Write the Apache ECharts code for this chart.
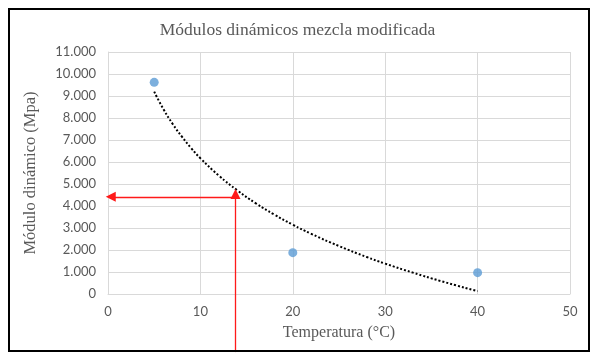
<!DOCTYPE html>
<html><head><meta charset="utf-8">
<script src="https://cdn.jsdelivr.net/npm/echarts@6/dist/echarts.min.js"></script>
<style>html,body{margin:0;padding:0;background:#fff}#c{width:595px;height:360px}</style>
</head><body><div id="c"></div>
<script>
// Measured points (Temperatura °C, Módulo dinámico MPa)
const tempPoints = [5, 20, 40];
const moduloPoints = [9620, 1880, 970];
// Trend line values
const trendX = [5, 6, 7, 8, 9, 10, 12, 14, 16, 18, 20, 22, 25, 28, 30, 33, 36, 40];
const trendY = [9200, 8400, 7730, 7150, 6630, 6170, 5380, 4710, 4120, 3610, 3150, 2735, 2180, 1680, 1380, 970, 590, 130];
// Red annotation arrows (data coordinates)
const arrowVertical = [[13.8, -2640], [13.8, 4550]];
const arrowHorizontal = [[13.8, 4420], [0.3, 4420]];
const xTicks = [0, 10, 20, 30, 40, 50];
const yTicks = [0, 1000, 2000, 3000, 4000, 5000, 6000, 7000, 8000, 9000, 10000, 11000];

const fmt = v => v === 0 ? '0' : String(v).replace(/\B(?=(\d{3})+(?!\d))/g, '.');
const red = { color: '#ff1a1a', width: 1.3, opacity: 1, type: 'solid' };
const chart = echarts.init(document.getElementById('c'));
chart.setOption({
  animation: false,
  title: {
    text: 'Módulos dinámicos mezcla modificada',
    left: 'center', top: 16,
    textStyle: { fontFamily: 'Liberation Serif', fontSize: 17.5, fontWeight: 'normal', color: '#595959' }
  },
  graphic: [{
    type: 'rect', shape: { x: 9, y: 9, width: 580, height: 342 },
    style: { fill: 'none', stroke: '#000', lineWidth: 2 }, z: 100
  }],
  grid: { left: 108, right: 25, top: 52, bottom: 66, containLabel: false },
  xAxis: {
    type: 'value', min: xTicks[0], max: xTicks[xTicks.length - 1], interval: 10,
    name: 'Temperatura (°C)', nameLocation: 'middle', nameGap: 31,
    nameTextStyle: { fontFamily: 'Liberation Serif', fontSize: 16, color: '#595959' },
    axisLine: { show: true, lineStyle: { color: '#d9d9d9', width: 1 } },
    axisTick: { show: false },
    axisLabel: { color: '#595959', fontFamily: 'Lato', fontSize: 13, margin: 11 },
    splitLine: { show: true, lineStyle: { color: '#d9d9d9', width: 1 } }
  },
  yAxis: {
    type: 'value', min: yTicks[0], max: yTicks[yTicks.length - 1], interval: 1000,
    name: 'Módulo dinámico (Mpa)', nameLocation: 'middle', nameGap: 69,
    nameTextStyle: { fontFamily: 'Liberation Serif', fontSize: 16.5, color: '#595959' },
    axisLine: { show: true, lineStyle: { color: '#d9d9d9', width: 1 } },
    axisTick: { show: false },
    axisLabel: { color: '#595959', fontFamily: 'Lato', fontSize: 13, margin: 12, formatter: fmt },
    splitLine: { show: true, lineStyle: { color: '#d9d9d9', width: 1 } }
  },
  series: [
    {
      type: 'line', data: trendX.map((x, i) => [x, trendY[i]]),
      smooth: true, showSymbol: false, symbol: 'none',
      lineStyle: { color: '#000', width: 2, type: [2, 2] }, z: 3
    },
    {
      type: 'scatter', data: tempPoints.map((x, i) => [x, moduloPoints[i]]),
      symbolSize: 9, itemStyle: { color: '#5b9bd5' }, z: 4
    },
    {
      type: 'lines', coordinateSystem: 'cartesian2d', clip: false,
      symbol: ['none', 'triangle'], symbolSize: 10,
      lineStyle: red,
      itemStyle: { color: '#ff0000' },
      data: [
        { coords: arrowVertical, lineStyle: red },
        { coords: arrowHorizontal, lineStyle: red }
      ], z: 5
    }
  ]
});
</script></body></html>
